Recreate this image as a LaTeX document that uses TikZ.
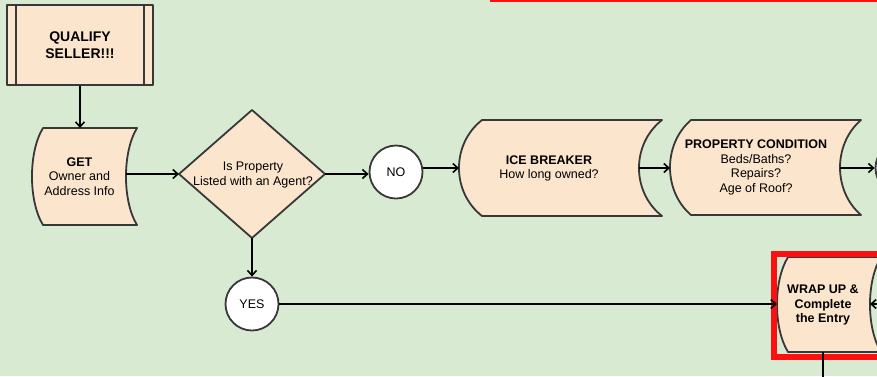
\documentclass[tikz,border=0pt]{standalone}
\usepackage{fontspec}
\setmainfont{Liberation Sans}
\usetikzlibrary{arrows.meta,calc}
\definecolor{bg}{HTML}{D9EAD3}
\definecolor{peach}{HTML}{FCE5CD}
\definecolor{bord}{HTML}{383838}
\definecolor{hl}{HTML}{FF1010}
\begin{document}
\begin{tikzpicture}[x=1pt,y=-1pt,
  shp/.style={fill=peach, draw=bord, line width=1.8pt, line join=round},
  lbl/.style={align=center, inner sep=0pt, font=\fontsize{12.5pt}{14.8pt}\selectfont},
  circ/.style={circle, draw=bord, fill=white, line width=1.8pt, minimum size=53pt, inner sep=0pt, font=\fontsize{12.5pt}{14.8pt}\selectfont},
  conn/.style={line width=1.8pt, draw=black, -{Straight Barb[length=5pt,width=9pt,line width=1.6pt]}},
  plain/.style={line width=1.8pt, draw=black},
  hlbox/.style={draw=hl, line width=6pt}]
\useasboundingbox (0,0) rectangle (877,376);
\fill[bg] (0,0) rectangle (877,376);
\clip (0,0) rectangle (877,376);

% top red mark (cut off)
\draw[draw=hl, line width=3pt] (490,0) -- (900,0);

% QUALIFY SELLER
\node[shp, minimum width=146pt, minimum height=80pt, inner sep=0pt, align=center,
      font=\bfseries\fontsize{14pt}{17pt}\selectfont] (q) at (80,45) {QUALIFY\\SELLER!!!};
\draw[bord, line width=1.8pt] ([xshift=10pt]q.north west) -- ([xshift=10pt]q.south west);
\draw[bord, line width=1.8pt] ([xshift=-10pt]q.north east) -- ([xshift=-10pt]q.south east);

% GET
\path[shp] (43,128) -- (137,128) .. controls (122.3,152) and (122.3,201) .. (137,225)
  -- (43,225) .. controls (28.3,201) and (28.3,152) .. (43,128) -- cycle;
\node[lbl] (get) at (79.5,176.5) {\textbf{GET}\\Owner and\\Address Info};
\coordinate (get-n) at (80,128);
\coordinate (get-e) at (126,174);

% diamond
\coordinate (dia-w) at (179,174);
\coordinate (dia-n) at (252,110);
\coordinate (dia-e) at (325,174);
\coordinate (dia-s) at (252,238);
\path[shp] (dia-w) -- (dia-n) -- (dia-e) -- (dia-s) -- cycle;
\node[lbl] (dia) at (253,175) {Is Property\\Listed with an Agent?};

% NO / YES
\node[circ] (no) at (396,172) {NO};
\node[circ] (yes) at (252,304) {YES};

% ICE BREAKER
\path[shp] (482,120) -- (662,120) .. controls (631.3,144) and (631.3,192) .. (662,216)
  -- (482,216) .. controls (451.3,192) and (451.3,144) .. (482,120) -- cycle;
\node[lbl] (ice) at (549,168.5) {\textbf{ICE BREAKER}\\How long owned?};
\coordinate (ice-w) at (459,168);
\coordinate (ice-e) at (639,168);

% PROPERTY CONDITION
\path[shp] (691,120) -- (861,120) .. controls (833,144) and (833,191) .. (861,215)
  -- (691,215) .. controls (663,191) and (663,144) .. (691,120) -- cycle;
\node[lbl] (prop) at (756,167.5) {\textbf{PROPERTY CONDITION}\\Beds/Baths?\\Repairs?\\Age of Roof?};
\coordinate (prop-w) at (670,168);
\coordinate (prop-e) at (840,168);

% next node (cut off at right)
\node[circ] (nxt) at (902,168) {};

% WRAP UP
\path[shp] (788,257) -- (881,257) .. controls (866.3,281) and (866.3,328) .. (881,352)
  -- (788,352) .. controls (773.3,328) and (773.3,281) .. (788,257) -- cycle;
\node[lbl, font=\bfseries\fontsize{12.5pt}{14.8pt}\selectfont] (wrap) at (823,305) {WRAP UP \&\\Complete\\the Entry};
\coordinate (wrap-w) at (777,304);
\coordinate (wrap-e) at (870,304);
\coordinate (wrap-s) at (823,352);
\coordinate (from-r) at (900,304);
\coordinate (to-b) at (823,390);

% highlight
\draw[hlbox] (774,254) rectangle (930,356.5);

% connectors
\draw[conn] (q.south -| get-n) -- (get-n);
\draw[conn] (get-e) -- (dia-w);
\draw[conn] (dia-e) -- (dia-e -| no.west);
\draw[conn] (no.east |- ice-w) -- (ice-w);
\draw[conn] (ice-e) -- (prop-w);
\draw[conn] (prop-e) -- (nxt.west);
\draw[conn] (dia-s) -- (yes.north);
\draw[conn] (yes.east) -- (wrap-w);
\draw[conn] (from-r) -- (wrap-e);
\draw[plain] (wrap-s) -- (to-b);
\end{tikzpicture}
\end{document}
